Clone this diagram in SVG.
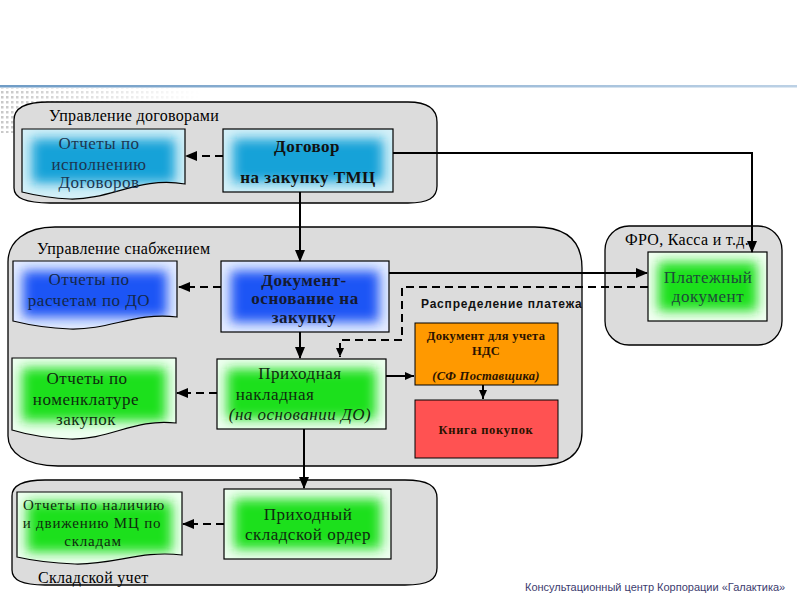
<svg xmlns="http://www.w3.org/2000/svg" width="800" height="600" viewBox="0 0 800 600">
<defs>
<style>
.grp{fill:#dcdcdc;stroke:#000;stroke-width:1.3}
.ttl{font-family:"Liberation Serif",serif;font-size:16px;letter-spacing:0.3px;fill:#000}
.t{font-family:"Liberation Serif",serif;font-size:17px;letter-spacing:0.5px;text-anchor:middle}
.b{font-weight:bold}
.i{font-style:italic}
.box{fill:none;stroke:#000;stroke-width:1.2}
.solid{fill:none;stroke:#000;stroke-width:2}
.dash{fill:none;stroke:#000;stroke-width:2;stroke-dasharray:8 5}
.sm{font-family:"Liberation Serif",serif;font-size:12.5px;letter-spacing:0.3px;font-weight:bold;text-anchor:middle;fill:#2a1200}
</style>
<filter id="blur" x="-50%" y="-50%" width="200%" height="200%"><feGaussianBlur stdDeviation="6"/></filter>
<marker id="ah" markerUnits="userSpaceOnUse" markerWidth="12" markerHeight="10" refX="11" refY="5" orient="auto"><path d="M0,0 L12,5 L0,10 z" fill="#000"/></marker>
<marker id="ahs" markerUnits="userSpaceOnUse" markerWidth="9" markerHeight="8" refX="9" refY="4" orient="auto"><path d="M0,0 L9,4 L0,8 z" fill="#000"/></marker>
<linearGradient id="hdr" x1="0" x2="1" y1="0" y2="0"><stop offset="0" stop-color="#6f9cc6"/><stop offset="1" stop-color="#bcd1e5"/></linearGradient>
<pattern id="dots" width="5" height="5" patternUnits="userSpaceOnUse"><rect x="1" y="1" width="2.5" height="2.5" fill="#c8c8c8"/></pattern>
<linearGradient id="fadeR" x1="0" x2="1" y1="0" y2="0"><stop offset="0" stop-color="#fff"/><stop offset="1" stop-color="#000"/></linearGradient>
<mask id="dm"><rect x="0" y="88" width="200" height="45" fill="url(#fadeR)"/></mask>
<clipPath id="c1"><path d="M22,129 H185 V184 C140,176 110,200 70,199 C45,198 30,194 22,192 Z"/></clipPath>
<clipPath id="c2"><rect x="223" y="129" width="170" height="63"/></clipPath>
<clipPath id="c3"><path d="M13,261 H177 V317 C135,312 110,330 70,329 C45,328 25,324 13,321 Z"/></clipPath>
<clipPath id="c4"><rect x="221" y="261" width="168" height="71"/></clipPath>
<clipPath id="c5"><path d="M12,358 H176 V423 C135,418 110,440 70,439 C45,438 25,434 12,430 Z"/></clipPath>
<clipPath id="c6"><rect x="217" y="359" width="169" height="70"/></clipPath>
<clipPath id="c7"><rect x="648" y="252" width="119" height="69"/></clipPath>
<clipPath id="c8"><path d="M17,492 H182 V555 C140,550 115,565 75,564 C50,563 30,560 17,557 Z"/></clipPath>
<clipPath id="c9"><rect x="224" y="489" width="167" height="70"/></clipPath>
</defs>

<rect width="800" height="600" fill="#fff"/>
<rect x="0" y="88" width="200" height="45" fill="url(#dots)" mask="url(#dm)"/>
<rect x="0" y="85" width="797" height="2.5" fill="url(#hdr)"/>

<g id="grp-dogovory">
<path class="grp" d="M48,102 H408 C430,102 437,110 437,122 V186 C437,198 428,203 408,203 H50 C26,203 14,198 14,188 V120 C14,108 26,102 48,102 Z"/>
<text class="ttl" x="49" y="121">Управление договорами</text>
</g>
<g id="grp-snab">
<path class="grp" d="M55,227 H535 C565,227 582,240 582,268 V432 C582,455 565,466 535,466 H58 C25,466 8,452 8,436 V262 C8,242 25,227 55,227 Z"/>
<text class="ttl" x="37" y="254">Управление снабжением</text>
</g>
<g id="grp-sklad">
<path class="grp" d="M45,480 H405 C428,480 437,486 437,498 V568 C437,580 428,585 405,585 H45 C22,585 12,580 12,570 V496 C12,486 22,480 45,480 Z"/>
<text class="ttl" x="38" y="583">Складской учет</text>
</g>
<g id="grp-fro">
<rect class="grp" x="605" y="226" width="177" height="119" rx="24" ry="24"/>
<text class="ttl" x="625" y="245">ФРО, Касса и т.д.</text>
</g>

<g id="n-otch-dog">
<g clip-path="url(#c1)"><rect x="0" y="120" width="200" height="90" fill="#d4f0f8"/><rect x="32" y="139" width="143" height="44" fill="#12a2d8" filter="url(#blur)"/></g>
<path class="box" d="M22,129 H185 V184 C140,176 110,200 70,199 C45,198 30,194 22,192 Z"/>
<text class="t" fill="#1c3550"><tspan x="99" y="149">Отчеты по</tspan><tspan x="99" y="170">исполнению</tspan><tspan x="99" y="188">Договоров</tspan></text>
</g>
<g id="n-dogovor">
<g clip-path="url(#c2)"><rect x="223" y="129" width="170" height="63" fill="#d4f0f8"/><rect x="233" y="139" width="150" height="43" fill="#12a2d8" filter="url(#blur)"/></g>
<rect class="box" x="223" y="129" width="170" height="63"/>
<text class="t b" fill="#111"><tspan x="307" y="152">Договор</tspan><tspan x="308" y="183">на закупку ТМЦ</tspan></text>
</g>
<g id="n-otch-rasch">
<g clip-path="url(#c3)"><rect x="0" y="255" width="200" height="90" fill="#e4ebff"/><rect x="23" y="271" width="144" height="46" fill="#1f55f5" filter="url(#blur)"/></g>
<path class="box" d="M13,261 H177 V317 C135,312 110,330 70,329 C45,328 25,324 13,321 Z"/>
<text class="t" fill="#14284a"><tspan x="89" y="285">Отчеты по</tspan><tspan x="89" y="306">расчетам по ДО</tspan></text>
</g>
<g id="n-dokosn">
<g clip-path="url(#c4)"><rect x="221" y="261" width="168" height="71" fill="#e4ebff"/><rect x="231" y="271" width="148" height="51" fill="#1f55f5" filter="url(#blur)"/></g>
<rect class="box" x="221" y="261" width="168" height="71"/>
<text class="t b" fill="#141a30"><tspan x="304" y="286">Документ-</tspan><tspan x="305" y="304">основание на</tspan><tspan x="304" y="323">закупку</tspan></text>
</g>
<g id="n-otch-nom">
<g clip-path="url(#c5)"><rect x="0" y="350" width="200" height="100" fill="#eefff0"/><rect x="22" y="368" width="144" height="53" fill="#1fe01f" filter="url(#blur)"/></g>
<path class="box" d="M12,358 H176 V423 C135,418 110,440 70,439 C45,438 25,434 12,430 Z"/>
<text class="t" fill="#0f2a0f"><tspan x="87" y="384">Отчеты по</tspan><tspan x="86" y="405">номенклатуре</tspan><tspan x="86" y="425">закупок</tspan></text>
</g>
<g id="n-prihnakl">
<g clip-path="url(#c6)"><rect x="217" y="359" width="169" height="70" fill="#eefff0"/><rect x="227" y="369" width="149" height="50" fill="#1fe01f" filter="url(#blur)"/></g>
<rect class="box" x="217" y="359" width="169" height="70"/>
<text class="t" fill="#0f2a0f"><tspan x="300" y="379">Приходная</tspan><tspan x="275" y="400">накладная</tspan><tspan class="i" x="300" y="420">(на основании ДО)</tspan></text>
</g>
<g id="n-plat">
<g clip-path="url(#c7)"><rect x="648" y="252" width="119" height="69" fill="#f2fff2"/><rect x="658" y="262" width="99" height="49" fill="#1fe01f" filter="url(#blur)"/></g>
<rect class="box" x="648" y="252" width="119" height="69"/>
<text class="t" fill="#1e4a3a"><tspan x="708" y="283">Платежный</tspan><tspan x="708" y="302">документ</tspan></text>
</g>
<text x="421" y="308" font-family="Liberation Sans,Arial,sans-serif" font-size="12" font-weight="bold" letter-spacing="0.8" fill="#111">Распределение платежа</text>
<g id="n-nds">
<rect x="415" y="323" width="143" height="62" fill="#ff9900" stroke="#000" stroke-width="1"/>
<text class="sm"><tspan x="486" y="340">Документ для учета</tspan><tspan x="486" y="355">НДС</tspan><tspan class="i" x="486" y="380">(СФ Поставщика)</tspan></text>
</g>
<g id="n-kniga">
<rect x="415" y="400" width="143" height="58" fill="#ff5252" stroke="#000" stroke-width="1"/>
<text class="sm" x="486" y="434" style="letter-spacing:0.7px">Книга покупок</text>
</g>
<g id="n-otch-nal">
<g clip-path="url(#c8)"><rect x="0" y="485" width="200" height="90" fill="#eefff0"/><rect x="27" y="502" width="145" height="50" fill="#1fe01f" filter="url(#blur)"/></g>
<path class="box" d="M17,492 H182 V555 C140,550 115,565 75,564 C50,563 30,560 17,557 Z"/>
<text class="t" fill="#0f2a0f" style="font-size:15px;letter-spacing:0.8px"><tspan x="94" y="510">Отчеты по наличию</tspan><tspan x="92" y="528">и движению МЦ по</tspan><tspan x="93" y="546">складам</tspan></text>
</g>
<g id="n-prihord">
<g clip-path="url(#c9)"><rect x="224" y="489" width="167" height="70" fill="#eefff0"/><rect x="234" y="499" width="147" height="50" fill="#1fe01f" filter="url(#blur)"/></g>
<rect class="box" x="224" y="489" width="167" height="70"/>
<text class="t" fill="#0f2a0f"><tspan x="308" y="520">Приходный</tspan><tspan x="308" y="540">складской ордер</tspan></text>
</g>

<g id="connectors">
<path class="dash" d="M223,156 H186" marker-end="url(#ah)"/>
<path class="dash" d="M221,287 H179" marker-end="url(#ah)"/>
<path class="dash" d="M217,393 H177" marker-end="url(#ah)"/>
<path class="dash" d="M224,524 H183" marker-end="url(#ah)"/>
<path class="solid" d="M393,153 H752 V252" marker-end="url(#ah)"/>
<path class="solid" d="M300,192 V261" marker-end="url(#ah)"/>
<path class="solid" d="M300,332 V358" marker-end="url(#ah)"/>
<path class="solid" d="M304,429 V488" marker-end="url(#ah)"/>
<path class="solid" d="M389,273 H647" marker-end="url(#ah)"/>
<path class="solid" d="M386,376 H414" marker-end="url(#ahs)"/>
<path class="solid" d="M483,385 V399" marker-end="url(#ahs)"/>
<path class="dash" d="M648,287 H402 V340 H340 V357" marker-end="url(#ahs)"/>
</g>

<text x="525" y="591" font-family="Liberation Sans,Arial,sans-serif" font-size="11" fill="#3c3c6e">Консультационный центр Корпорации «Галактика»</text>
</svg>
